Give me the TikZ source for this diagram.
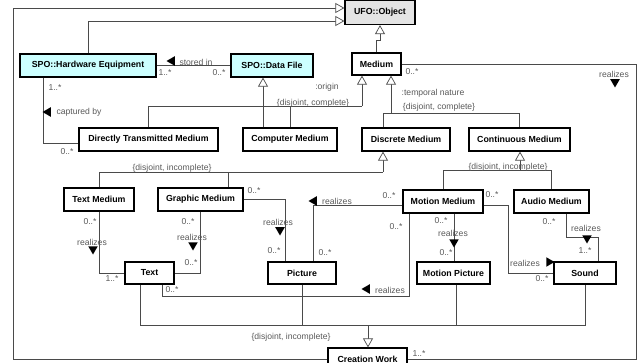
\documentclass[tikz,border=0pt]{standalone}
\usepackage{fontspec}
\setmainfont{Liberation Sans}
\usetikzlibrary{arrows.meta,shapes.geometric}

\definecolor{spocyan}{HTML}{CCFFFF}
\definecolor{ufogray}{HTML}{E4E4E4}
\definecolor{linegray}{HTML}{4A4A4A}

\tikzstyle{cls} = [draw=black, line width=1.3pt, fill=white, inner sep=0pt, minimum height=23pt, font=\fontsize{8.8}{10}\selectfont\bfseries, text=black]
\tikzstyle{lbl} = [text=black!65, inner sep=0pt, font=\fontsize{8.6}{9}\selectfont]
\tikzstyle{assoc} = [draw=linegray, line width=0.7pt]
\tikzstyle{gen} = [assoc, -{Triangle[open, fill=white, width=10pt, length=9pt]}]
\tikzstyle{dirtri} = [regular polygon, regular polygon sides=3, fill=black, inner sep=0pt, minimum size=11pt]

\begin{document}
\begin{tikzpicture}[x=1pt, y=-1pt, >=latex]
\useasboundingbox (0,0) rectangle (639,363);

%CLASSES
\node[cls, fill=ufogray, minimum width=70pt, minimum height=24pt] (object) at (380,12.5) {UFO::Object};
\node[cls, fill=spocyan, minimum width=136pt] (hardware) at (88,65.5) {SPO::Hardware Equipment};
\node[cls, fill=spocyan, minimum width=82pt] (datafile) at (272,65.5) {SPO::Data File};
\node[cls, minimum width=49pt, minimum height=22pt] (medium) at (376.5,64) {Medium};
\node[cls, minimum width=139pt] (directm) at (148.5,139.5) {Directly Transmitted Medium};
\node[cls, minimum width=94pt] (computerm) at (290,139.5) {Computer Medium};
\node[cls, minimum width=88pt] (discretem) at (406,139.5) {Discrete Medium};
\node[cls, minimum width=101pt] (continuousm) at (519.5,139.5) {Continuous Medium};
\node[cls, minimum width=70pt] (textm) at (99,199.5) {Text Medium};
\node[cls, minimum width=85pt] (graphicm) at (200.5,199.5) {Graphic Medium};
\node[cls, minimum width=80pt] (motionm) at (443,201.5) {Motion Medium};
\node[cls, minimum width=75pt] (audiom) at (551.5,201.5) {Audio Medium};
\node[cls, minimum width=49pt, minimum height=22pt] (textw) at (149.5,273) {Text};
\node[cls, minimum width=68pt, minimum height=22pt] (picturew) at (302,273) {Picture};
\node[cls, minimum width=73pt, minimum height=22pt] (motionw) at (453.5,273) {Motion Picture};
\node[cls, minimum width=62pt, minimum height=22pt] (soundw) at (585,273) {Sound};
\node[cls, minimum width=79pt, minimum height=22pt] (creationw) at (367.5,359) {Creation Work};

\coordinate (topleft) at (13,8);
\coordinate (botright) at (636,359);
\coordinate (originset) at (362,106);
\coordinate (temporalset) at (391,113);
\coordinate (discreteset) at (383,172);
\coordinate (continuousset) at (520,170);
\coordinate (creationset) at (368,325);
\coordinate (mtextbend) at (409,296);
\coordinate (msoundbend) at (508,273);
\coordinate (asoundbend) at (566,237);

%UFO::OBJECT
\draw[gen] (creationw.west) -| (topleft) -- ([yshift=4.5pt]object.west);
\draw[gen] (hardware.north) |- ([yshift=-8.5pt]object.west);
\draw[gen] (medium.north) -- ++(0,-12) -| (object.south);

%STORED IN
\draw[assoc] (hardware.east) -- (datafile.west);
\node[dirtri, shape border rotate=90] (storedtri) at (172,61) {};
\node[lbl] (storedlbl) at (196,62) {stored in};
\node[lbl] (storedm1) at (165,73) {1..*};
\node[lbl] (storedm2) at (219,73) {0..*};

%CAPTURED BY
\draw[assoc] ([xshift=-45pt]hardware.south) |- ([yshift=-3.5pt]directm.west);
\node[lbl] (capturedm1) at (55,88) {1..*};
\node[dirtri, shape border rotate=90] (capturedtri) at (48,112) {};
\node[lbl] (capturedlbl) at (79,112) {captured by};
\node[lbl] (capturedm2) at (67,152) {0..*};

%ORIGIN
\draw[assoc] (directm.north) |- (originset);
\draw[assoc] (computerm.north) -- (computerm.north |- originset);
\draw[gen] (originset) -- (originset |- medium.south);
\node[lbl] (originlbl) at (327,87) {:origin};
\node[lbl] (origincons) at (313,103) {\{disjoint, complete\}};
\draw[gen] ([xshift=-27pt]computerm.north) -- ([xshift=-27pt]computerm.north |- datafile.south);

%TEMPORAL NATURE
\draw[assoc] ([xshift=-23pt]discretem.north) |- (continuousm.north |- temporalset) -- (continuousm.north);
\draw[gen] (temporalset) -- (temporalset |- medium.south);
\node[lbl] (temporallbl) at (433,93) {:temporal nature};
\node[lbl] (temporalcons) at (439,107) {\{disjoint, complete\}};

%DISCRETE
\draw[assoc] (textm.north) |- (discreteset);
\draw[assoc] ([xshift=27.5pt]graphicm.north) -- ([xshift=27.5pt]graphicm.north |- discreteset);
\draw[gen] (discreteset) -- (discreteset |- discretem.south);
\node[lbl] (discretecons) at (172,168) {\{disjoint, incomplete\}};

%CONTINUOUS
\draw[assoc] (motionm.north) |- (audiom.north |- continuousset) -- (audiom.north);
\draw[gen] (continuousset) -- (continuousset |- continuousm.south);
\node[lbl] (continuouscons) at (508,167) {\{disjoint, incomplete\}};

%CREATION WORK
\draw[assoc] ([xshift=-9.5pt]textw.south) |- (soundw.south |- creationset) -- (soundw.south);
\draw[assoc] (picturew.south) -- (picturew.south |- creationset);
\draw[assoc] ([xshift=2.5pt]motionw.south) -- ([xshift=2.5pt]motionw.south |- creationset);
\draw[gen] (creationset) -- (creationset |- creationw.north);
\node[lbl] (creationcons) at (291,337) {\{disjoint, incomplete\}};

%MEDIUM REALIZES
\draw[assoc] (medium.east) -| (botright) -- (creationw.east);
\node[lbl] (mediumm1) at (412,72) {0..*};
\node[lbl] (mediumlbl) at (614,74) {realizes};
\node[dirtri, shape border rotate=180] (mediumtri) at (615,82) {};
\node[lbl] (mediumm2) at (419,354) {1..*};

%TEXT MEDIUM
\draw[assoc] (textm.south) |- (textw.west);
\node[lbl] (textmm1) at (90,222) {0..*};
\node[lbl] (textmlbl) at (92,242) {realizes};
\node[dirtri, shape border rotate=180] (textmtri) at (93,249) {};
\node[lbl] (textmm2) at (112,279) {1..*};

%GRAPHIC MEDIUM
\draw[assoc] (graphicm.south) |- (textw.east);
\node[lbl] (graphtm1) at (188,222) {0..*};
\node[lbl] (graphtlbl) at (192,237) {realizes};
\node[dirtri, shape border rotate=180] (graphttri) at (193,245) {};
\node[lbl] (graphtm2) at (191,263) {0..*};
\draw[assoc] (graphicm.east) -| ([xshift=-17pt]picturew.north);
\node[lbl] (graphpm1) at (254,191) {0..*};
\node[lbl] (graphplbl) at (278,222) {realizes};
\node[dirtri, shape border rotate=180] (graphptri) at (280,230) {};
\node[lbl] (graphpm2) at (274,251) {0..*};

%MOTION MEDIUM
\draw[assoc] ([yshift=-3.5pt]motionm.west) -| ([xshift=11pt]picturew.north);
\node[dirtri, shape border rotate=90] (motionptri) at (314,201) {};
\node[lbl] (motionplbl) at (337,201) {realizes};
\node[lbl] (motionpm1) at (389,196) {0..*};
\node[lbl] (motionpm2) at (325,253) {0..*};

\draw[assoc] ([xshift=-34pt]motionm.south) -- (mtextbend) -| ([xshift=13pt]textw.south);
\node[lbl] (motiontm1) at (396,227) {0..*};
\node[dirtri, shape border rotate=90] (motionttri) at (367,289) {};
\node[lbl] (motiontlbl) at (390,290) {realizes};
\node[lbl] (motiontm2) at (172,290) {0..*};

\draw[assoc] ([xshift=11pt]motionm.south) -- ([xshift=11pt]motionm.south |- motionw.north);
\node[lbl] (motionmm1) at (441,221) {0..*};
\node[lbl] (motionmlbl) at (453,233) {realizes};
\node[dirtri, shape border rotate=180] (motionmtri) at (454,242) {};
\node[lbl] (motionmm2) at (446,253) {0..*};

\draw[assoc] ([yshift=-3.5pt]motionm.east) -| (msoundbend) -- (soundw.west);
\node[lbl] (motionsm1) at (492,195) {0..*};
\node[lbl] (motionslbl) at (525,263) {realizes};
\node[dirtri, shape border rotate=-90] (motionstri) at (549,262) {};
\node[lbl] (motionsm2) at (542,279) {0..*};

%AUDIO MEDIUM
\draw[assoc] ([xshift=14.5pt]audiom.south) -- (asoundbend) -| ([xshift=13pt]soundw.north);
\node[lbl] (audiom1) at (549,222) {0..*};
\node[lbl] (audiolbl) at (586,228) {realizes};
\node[dirtri, shape border rotate=180] (audiotri) at (587,238) {};
\node[lbl] (audiom2) at (585,251) {1..*};
\end{tikzpicture}
\end{document}
